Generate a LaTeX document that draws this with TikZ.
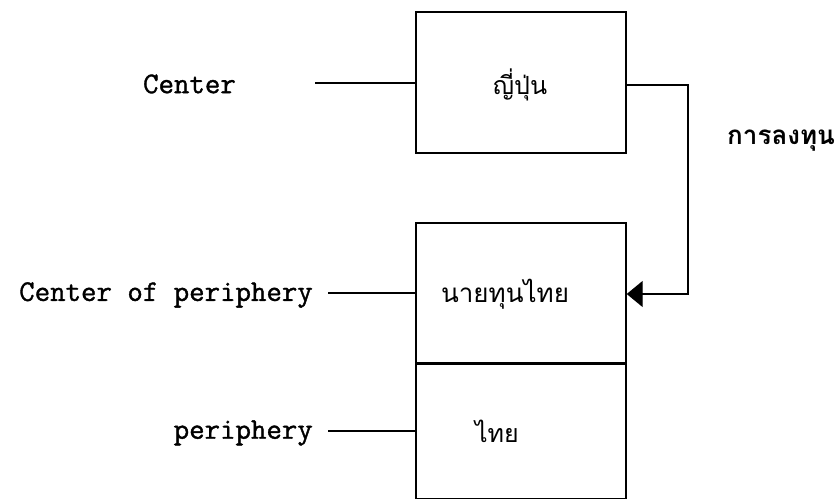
\documentclass[tikz,border=0pt]{standalone}
\usepackage{fontspec}
\usetikzlibrary{arrows.meta}
\newfontfamily\thaifont[Script=Thai]{Loma}
\newfontfamily\twfont[FakeBold=1.2]{Latin Modern Mono}
\begin{document}
\begin{tikzpicture}[x=1pt,y=-1pt,
  boxpart/.style={draw,line width=1.4pt,minimum width=210pt,inner sep=0pt},
  eng/.style={font=\twfont\fontsize{30}{34}\selectfont,inner sep=0pt},
  thai/.style={font=\thaifont\fontsize{24}{28}\selectfont,inner sep=0pt},
  conn/.style={line width=1.4pt}]
\useasboundingbox (0,0) rectangle (839,500);
% boxes
\node[boxpart,minimum height=141pt] (japan) at (521,82.5) {};
\node[boxpart,minimum height=140pt] (capital) at (521,293) {};
\node[boxpart,minimum height=134pt,anchor=north] (thailand) at (capital.south) {};
% box texts
\node[thai,font=\thaifont\fontsize{25}{30}\selectfont] (tjapan) at (520,85) {ญี่ปุ่น};
\node[thai,font=\thaifont\fontsize{26}{30}\selectfont] (tcapital) at (505,294) {นายทุนไทย};
\node[thai,font=\thaifont\fontsize{25}{30}\selectfont] (tthai) at (497,431) {ไทย};
% labels
\node[eng,anchor=east] (lcenter) at (236,84) {Center};
\node[eng,anchor=east] (lcop) at (313,295) {Center of periphery};
\node[eng,anchor=east] (lper) at (313,433) {periphery};
\node[thai,font=\thaifont\bfseries\fontsize{26}{30}\selectfont,anchor=west] (linv) at (727,141) {การลงทุน};
% leader lines
\coordinate (c1) at (315,83);
\coordinate (c2) at (328,293);
\coordinate (c3) at (328,431);
\draw[conn] (c1) -- (c1 -| japan.west);
\draw[conn] (c2) -- (c2 -| capital.west);
\draw[conn] (c3) -- (c3 -| thailand.west);
% investment arrow
\coordinate (r1) at (688,85);
\coordinate (r2) at (688,294);
\draw[conn,-{Triangle[length=16pt,width=26pt]}] (r1 -| japan.east) -- (r1) -- (r2) -- (r2 -| capital.east);
\end{tikzpicture}
\end{document}
